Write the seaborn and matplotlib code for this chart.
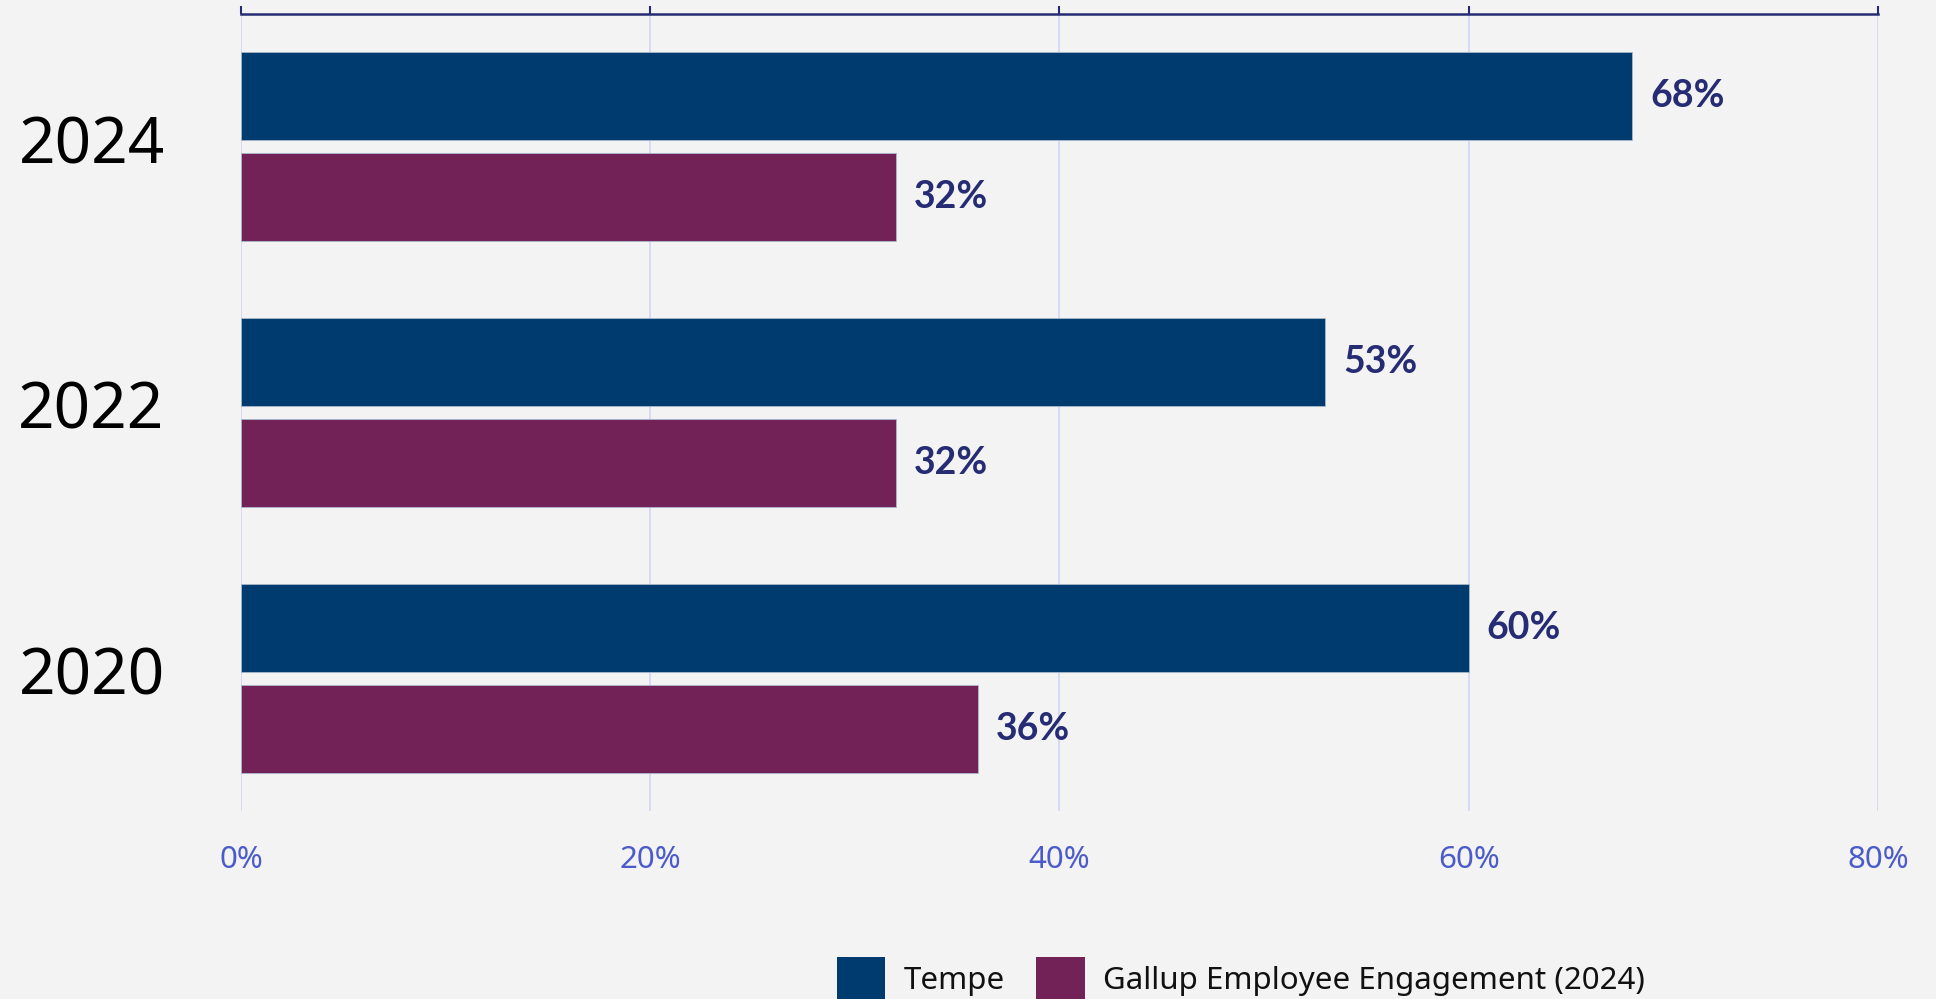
import matplotlib
matplotlib.use("Agg")
import matplotlib.pyplot as plt
import matplotlib.transforms as mtransforms
import seaborn as sns
import pandas as pd
from matplotlib.patches import Patch
from matplotlib.ticker import FuncFormatter

years = ["2024", "2022", "2020"]
series_names = ["Tempe", "Gallup Employee Engagement (2024)"]
tempe = [68, 53, 60]
gallup = [32, 32, 36]
x_ticks = [0, 20, 40, 60, 80]

colors = ["#003b70", "#722257"]
bg = "#f3f3f3"
navy = "#252c73"

df = pd.DataFrame({
    "year": years * 2,
    "series": [series_names[0]] * 3 + [series_names[1]] * 3,
    "value": tempe + gallup,
})

sns.set_theme(style="white")
plt.rcParams["font.family"] = ["Noto Sans", "DejaVu Sans"]

fig = plt.figure(figsize=(19.36, 9.99), dpi=100, facecolor=bg)
ax = fig.add_axes([0.1245, 0.188, 0.8455, 0.7984])
ax.set_facecolor(bg)

sns.barplot(data=df, x="value", y="year", hue="series", order=years,
            hue_order=series_names, palette=colors, orient="h",
            width=0.76, gap=0.13, saturation=1, legend=False,
            edgecolor="#a9b8cc", linewidth=0.6, ax=ax, zorder=3)

ax.set_xlim(0, 80)
ax.set_ylim(2.5, -0.5)
ax.set_xticks(x_ticks)
ax.xaxis.set_major_formatter(FuncFormatter(lambda v, p: f"{v:.0f}%"))
ax.grid(axis="x", color="#d5d8f2", linewidth=1.3, zorder=0)
ax.grid(axis="y", visible=False)

for s in ["left", "right", "bottom"]:
    ax.spines[s].set_visible(False)
ax.spines["top"].set_visible(True)
ax.spines["top"].set_color(navy)
ax.spines["top"].set_linewidth(1.8)

# tick marks on the top spine, labels below the plot
ax.tick_params(axis="x", which="both", top=True, bottom=False,
               labeltop=False, labelbottom=True, direction="out",
               length=6, width=1.5, color=navy,
               labelsize=22.5, labelcolor="#4b5bc9", pad=18)
ax.tick_params(axis="y", left=False, labelsize=46, labelcolor="#000000", pad=49)
ax.set_xlabel("")
ax.set_ylabel("")

# nudge the year labels slightly upward
lift = mtransforms.ScaledTranslation(0, 0.08, fig.dpi_scale_trans)
for lbl in ax.get_yticklabels():
    lbl.set_transform(lbl.get_transform() + lift)

for container, vals in zip(ax.containers, [tempe, gallup]):
    ax.bar_label(container, labels=[f"{v}%" for v in vals], padding=13,
                 fontsize=27, fontweight="bold", color=navy,
                 family=["Lato", "DejaVu Sans"])

handles = [Patch(facecolor=c, edgecolor="none") for c in colors]
fig.legend(handles, series_names, loc="center", bbox_to_anchor=(0.641, 0.02),
           ncol=2, frameon=False, fontsize=22.5, handlelength=1.55,
           handleheight=1.75, handletextpad=0.6, columnspacing=1.0,
           labelcolor="#111111")

fig.savefig("out.png", dpi=100, facecolor=bg)
